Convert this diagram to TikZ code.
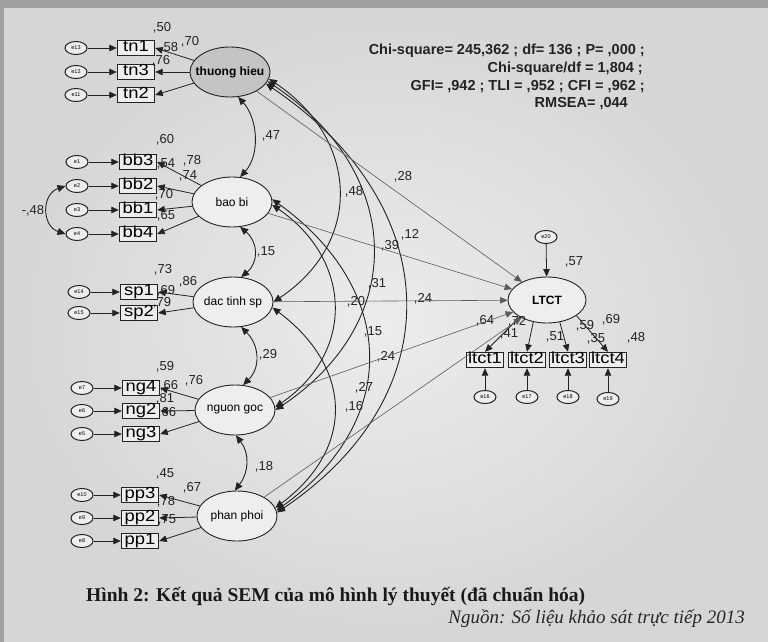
\documentclass[tikz,border=0pt]{standalone}
\usepackage{fontspec}
\setmainfont{Liberation Serif}
\newfontfamily\lab{Liberation Sans}
\newfontfamily\boxfont[FakeStretch=1.15]{Liberation Sans}
\usetikzlibrary{arrows.meta,shapes.geometric}

\definecolor{paperedge}{RGB}{160,160,160}
\definecolor{papermid}{RGB}{236,236,236}
\definecolor{paperout}{RGB}{214,214,214}
\definecolor{ink}{RGB}{35,35,35}
\definecolor{soft}{RGB}{90,90,90}
\definecolor{lvfill}{RGB}{238,238,238}
\definecolor{lvshade}{RGB}{196,196,196}

% keeps a label from widening its ellipse
\newcommand\lvtext[1]{\makebox[0pt]{#1}}

\tikzset{
  semtip/.style={-{Triangle[length=7.5pt,width=6.5pt]}},
  semtwotip/.style={{Triangle[length=8pt,width=7pt]}-{Triangle[length=8pt,width=7pt]}},
  latent/.style={ellipse, draw=ink, line width=0.9pt, fill=lvfill,
    minimum width=80pt, minimum height=50pt, inner sep=0pt,
    font=\lab\fontsize{12}{13}\selectfont},
  obsbox/.style={rectangle, draw=ink, line width=1.4pt, fill=lvfill,
    minimum width=37pt, minimum height=15pt, inner sep=0pt,
    text height=10.8pt, text depth=3pt, text=black,
    font=\boxfont\fontsize{16}{17}\selectfont},
  errnode/.style={ellipse, draw=ink, line width=1pt, fill=lvfill,
    minimum width=22pt, minimum height=13pt, inner sep=0pt,
    font=\lab\fontsize{5.5}{6}\selectfont},
  valtext/.style={font=\lab\fontsize{13}{14}\selectfont, text=ink, inner sep=0pt},
  fitline/.style={font=\lab\bfseries\fontsize{14.5}{16}\selectfont, text=ink,
    inner sep=0pt, anchor=east},
  semlink/.style={draw=ink, line width=0.8pt, semtip},
  semcov/.style={draw=ink, line width=0.9pt, semtwotip},
  semreg/.style={draw=soft, line width=0.6pt, semtip},
}

\begin{document}
\begin{tikzpicture}[x=1pt,y=-1pt]
% scanned page
\fill[paperedge] (0,0) rectangle (768,642);
\shade[inner color=papermid, outer color=paperout] (4,9) rectangle (768,642);
\useasboundingbox (0,0) rectangle (768,642);

% latent factors
\node[latent, fill=lvshade, font=\lab\bfseries\fontsize{12}{13}\selectfont] (th) at (230,72) {\lvtext{thuong hieu}};
\node[latent] (bb)  at (232,202) {\lvtext{bao bi}};
\node[latent] (dac) at (233,302) {\lvtext{dac tinh sp}};
\node[latent] (ng)  at (235,410) {\lvtext{nguon goc}};
\node[latent] (pp)  at (237,516) {\lvtext{phan phoi}};
\node[latent, minimum width=78pt, minimum height=46pt,
      font=\lab\bfseries\fontsize{12}{13}\selectfont] (ltct) at (547,300) {\lvtext{LTCT}};

% observed indicators
\node[obsbox] (tn1) at (136,48)  {tn1};
\node[obsbox] (tn3) at (136,72)  {tn3};
\node[obsbox] (tn2) at (136,95)  {tn2};
\node[obsbox] (bb3) at (138,162) {bb3};
\node[obsbox] (bb2) at (138,186) {bb2};
\node[obsbox] (bb1) at (138,210) {bb1};
\node[obsbox] (bb4) at (138,234) {bb4};
\node[obsbox] (sp1) at (139,292) {sp1};
\node[obsbox] (sp2) at (139,313) {sp2};
\node[obsbox] (ng4) at (141,388) {ng4};
\node[obsbox] (ng2) at (141,411) {ng2};
\node[obsbox] (ng3) at (141,434) {ng3};
\node[obsbox] (pp3) at (140,495) {pp3};
\node[obsbox] (pp2) at (140,518) {pp2};
\node[obsbox] (pp1) at (140,541) {pp1};
\node[obsbox] (lt1) at (485,360) {ltct1};
\node[obsbox] (lt2) at (527,360) {ltct2};
\node[obsbox] (lt3) at (568,360) {ltct3};
\node[obsbox] (lt4) at (608,360) {ltct4};

% error terms
\node[errnode] (e13) at (76,48)  {e13};
\node[errnode] (e12) at (76,72)  {e12};
\node[errnode] (e11) at (76,95)  {e11};
\node[errnode] (e1)  at (77,162) {e1};
\node[errnode] (e2)  at (77,186) {e2};
\node[errnode] (e3)  at (77,210) {e3};
\node[errnode] (e4)  at (77,234) {e4};
\node[errnode] (e14) at (79,292) {e14};
\node[errnode] (e15) at (79,313) {e15};
\node[errnode] (e7)  at (82,388) {e7};
\node[errnode] (e6)  at (82,411) {e6};
\node[errnode] (e5)  at (82,434) {e5};
\node[errnode] (e10) at (82,495) {e10};
\node[errnode] (e9)  at (82,518) {e9};
\node[errnode] (e8)  at (82,541) {e8};
\node[errnode] (e16) at (485,397) {e16};
\node[errnode] (e17) at (527,397) {e17};
\node[errnode] (e18) at (568,397) {e18};
\node[errnode] (e19) at (608,399) {e19};
\node[errnode] (e20) at (546,237) {e20};

% standardized estimates
\node[valtext] (v01) at (162,28)  {,50};
\node[valtext] (v02) at (190,42)  {,70};
\node[valtext] (v03) at (169,48)  {,58};
\node[valtext] (v04) at (161,61)  {,76};
\node[valtext] (v05) at (165,140) {,60};
\node[valtext] (v06) at (192,161) {,78};
\node[valtext] (v07) at (166,164) {,54};
\node[valtext] (v08) at (188,176) {,74};
\node[valtext] (v09) at (164,195) {,70};
\node[valtext] (v10) at (166,216) {,65};
\node[valtext] (v11) at (163,270) {,73};
\node[valtext] (v12) at (188,282) {,86};
\node[valtext] (v13) at (166,291) {,69};
\node[valtext] (v14) at (162,303) {,79};
\node[valtext] (v15) at (165,367) {,59};
\node[valtext] (v16) at (194,381) {,76};
\node[valtext] (v17) at (169,386) {,66};
\node[valtext] (v18) at (165,399) {,81};
\node[valtext] (v19) at (167,413) {,66};
\node[valtext] (v20) at (165,474) {,45};
\node[valtext] (v21) at (192,488) {,67};
\node[valtext] (v22) at (166,502) {,78};
\node[valtext] (v23) at (167,520) {,75};
\node[valtext] (v24) at (33,211)  {-,48};
\node[valtext] (v25) at (271,136) {,47};
\node[valtext] (v26) at (266,252) {,15};
\node[valtext] (v27) at (268,355) {,29};
\node[valtext] (v28) at (264,467) {,18};
\node[valtext] (v29) at (403,177) {,28};
\node[valtext] (v30) at (354,192) {,48};
\node[valtext] (v31) at (410,235) {,12};
\node[valtext] (v32) at (390,246) {,39};
\node[valtext] (v33) at (377,284) {,31};
\node[valtext] (v34) at (356,302) {,20};
\node[valtext] (v35) at (423,299) {,24};
\node[valtext] (v36) at (373,332) {,15};
\node[valtext] (v37) at (386,357) {,24};
\node[valtext] (v38) at (364,388) {,27};
\node[valtext] (v39) at (354,407) {,16};
\node[valtext] (v40) at (574,262) {,57};
\node[valtext] (v41) at (485,321) {,64};
\node[valtext] (v42) at (517,322) {,72};
\node[valtext] (v43) at (509,334) {,41};
\node[valtext] (v44) at (555,337) {,51};
\node[valtext] (v45) at (585,326) {,59};
\node[valtext] (v46) at (611,320) {,69};
\node[valtext] (v47) at (596,339) {,35};
\node[valtext] (v48) at (636,338) {,48};

% error terms to indicators
\foreach \e/\o in {e13/tn1,e12/tn3,e11/tn2,e1/bb3,e2/bb2,e3/bb1,e4/bb4,
                   e14/sp1,e15/sp2,e7/ng4,e6/ng2,e5/ng3,e10/pp3,e9/pp2,e8/pp1,
                   e16/lt1,e17/lt2,e18/lt3,e19/lt4,e20/ltct}
  \draw[semlink] (\e) -- (\o);

% factor loadings
\foreach \f/\o in {th/tn1,th/tn3,th/tn2,bb/bb3,bb/bb2,bb/bb1,bb/bb4,
                   dac/sp1,dac/sp2,ng/ng4,ng/ng2,ng/ng3,pp/pp3,pp/pp2,pp/pp1}
  \draw[semlink] (\f) -- (\o.east);
\draw[semlink] (ltct.-148) -- (lt1.north);
\draw[semlink] (ltct.-122) -- (lt2.north);
\draw[semlink] (ltct.-60)  -- (lt3.north);
\draw[semlink] (ltct.-28)  -- (lt4.north);

% correlated errors
\draw[semcov] (e2.west) .. controls +(-24,8) and +(-24,-8) .. (e4.west);

% covariances between neighbouring factors
\draw[semcov] (th.-72)  .. controls +(20,22) and +(20,-22) .. (bb.72);
\draw[semcov] (bb.-72)  .. controls +(18,15) and +(18,-15) .. (dac.72);
\draw[semcov] (dac.-72) .. controls +(18,18) and +(18,-18) .. (ng.72);
\draw[semcov] (ng.-88)  .. controls +(14,18) and +(14,-18) .. (pp.95);

% covariances between distant factors
\draw[semcov] (th.-10) .. controls +(90,60)   and +(90,-60)   .. (dac.east);
\draw[semcov] (th.-14) .. controls +(135,90)  and +(135,-90)  .. (ng.east);
\draw[semcov] (th.-18) .. controls +(178,120) and +(178,-120) .. (pp.5);
\draw[semcov] (bb.-4)  .. controls +(80,55)   and +(80,-55)   .. (ng.4);
\draw[semcov] (bb.4)   .. controls +(125,90)  and +(125,-90)  .. (pp.8);
\draw[semcov] (dac.-8) .. controls +(80,60)   and +(80,-60)   .. (pp.12);

% structural paths
\foreach \f in {th,bb,dac,ng,pp}
  \draw[semreg] (\f) -- (ltct);

% fit statistics
\node[fitline] (fit1) at (645,51)  {Chi-square= 245,362 ; df= 136 ; P= ,000 ;};
\node[fitline] (fit2) at (643,69)  {Chi-square/df = 1,804 ;};
\node[fitline] (fit3) at (645,87)  {GFI= ,942 ; TLI = ,952 ; CFI = ,962 ;};
\node[fitline] (fit4) at (628,104) {RMSEA= ,044};

% caption and source
\node[anchor=west, inner sep=0pt, font=\bfseries\fontsize{19.5}{22}\selectfont, text=black!90] (cap) at (86,597)
  {Hình 2: Kết quả SEM của mô hình lý thuyết (đã chuẩn hóa)};
\node[anchor=east, inner sep=0pt, font=\itshape\fontsize{19}{22}\selectfont, text=black!85] (src) at (745,619)
  {Nguồn: Số liệu khảo sát trực tiếp 2013};
\end{tikzpicture}
\end{document}
